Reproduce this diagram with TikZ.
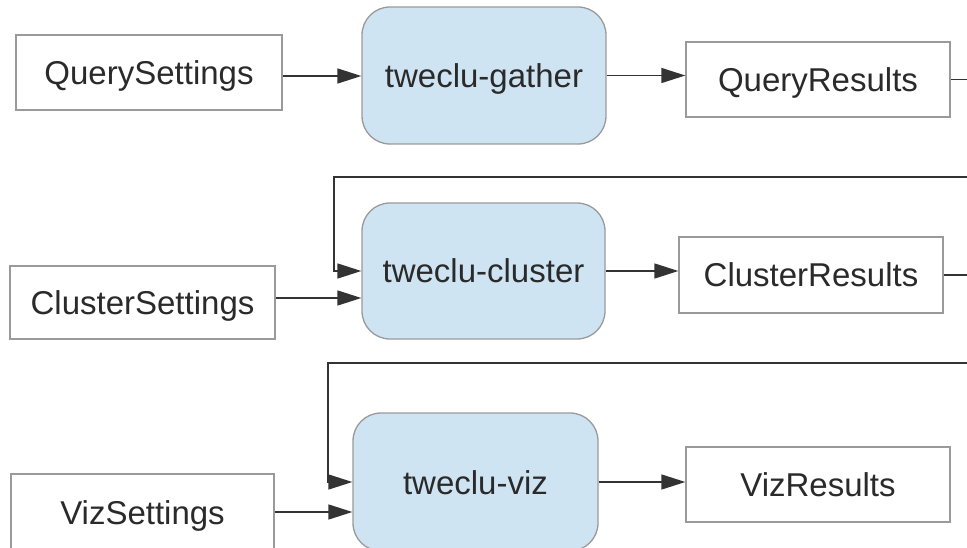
\documentclass[tikz,border=0pt]{standalone}
\usepackage{fontspec}
\setmainfont{Liberation Sans}
\usetikzlibrary{arrows.meta}
\definecolor{procfill}{HTML}{CFE4F3}
\definecolor{boxline}{HTML}{9A9A9A}
\definecolor{wire}{HTML}{333333}
\definecolor{txt}{HTML}{2A2A2A}
\begin{document}
\begin{tikzpicture}[x=1pt,y=-1pt,
  databox/.style={draw=boxline, line width=1.3pt, fill=white, text=txt,
    font=\fontsize{33}{36}\selectfont, inner sep=0pt, text height=24pt, text depth=0pt},
  procbox/.style={draw=boxline, line width=1.3pt, fill=procfill, rounded corners=28pt,
    text=txt, font=\fontsize{33}{36}\selectfont, inner sep=0pt, text height=24pt, text depth=0pt},
  wireline/.style={draw=wire, line width=1.4pt},
  arr/.style={wireline, -{Triangle[length=24pt,width=15pt]}}]
\useasboundingbox (0,0) rectangle (967,548);
\clip (0,0) rectangle (967,548);

% row 1
\node[databox, minimum width=266pt, minimum height=75pt] (qs) at (149,72.5) {QuerySettings};
\node[procbox, minimum width=244pt, minimum height=137pt] (gather) at (484,75.5) {tweclu-gather};
\node[databox, minimum width=264pt, minimum height=75pt] (qr) at (818,79.5) {QueryResults};

% row 2
\node[databox, minimum width=265pt, minimum height=73pt] (cs) at (142.5,302.5) {ClusterSettings};
\node[procbox, minimum width=243pt, minimum height=136pt] (cluster) at (483.5,271) {tweclu-cluster};
\node[databox, minimum width=264pt, minimum height=76pt] (cr) at (811,275) {ClusterResults};

% row 3
\node[databox, minimum width=263pt, minimum height=76pt] (vs) at (142.5,512) {VizSettings};
\node[procbox, minimum width=245pt, minimum height=138pt] (viz) at (475.5,482) {tweclu-viz};
\node[databox, minimum width=264pt, minimum height=75pt] (vr) at (818,484.5) {VizResults};

% free ends at the right edge
\coordinate (qrout) at (967,79.5);
\coordinate (crin) at (967,177);
\coordinate (crout) at (967,275);
\coordinate (vzin) at (967,363);

% connectors row 1
\draw[arr] ([yshift=-3.5pt]qs.east) -- ([yshift=-3.5pt]qs.east -| gather.west);
\draw[arr] (gather.east) -- (gather.east -| qr.west);
\draw[wireline] (qr.east) -- (qrout);

% connectors row 2
\draw[arr] (crin) -- (334,177) |- (cluster.west);
\draw[arr] ([yshift=4.5pt]cs.east) -- ([yshift=4.5pt]cs.east -| cluster.west);
\draw[arr] (cluster.east) -- (cluster.east -| cr.west);
\draw[wireline] (cr.east) -- (crout);

% connectors row 3
\draw[arr] (vzin) -- (328,363) |- (viz.west);
\draw[arr] (vs.east) -- (vs.east -| viz.west);
\draw[arr] (viz.east) -- (viz.east -| vr.west);
\end{tikzpicture}
\end{document}
